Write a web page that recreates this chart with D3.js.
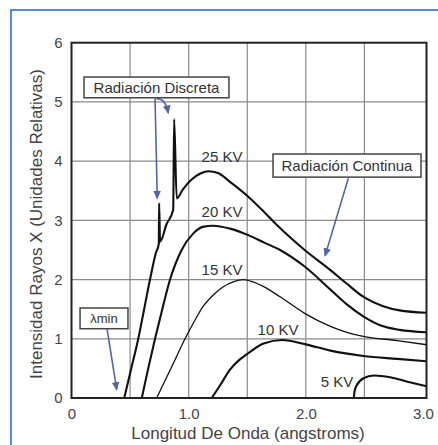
<!DOCTYPE html>
<html>
<head>
<meta charset="utf-8">
<script src="https://cdn.jsdelivr.net/npm/d3@7"></script>
<style>
  body { margin: 0; background: #fff; }
  svg { display: block; }
</style>
</head>
<body>
<svg id="espectro"></svg>
<script>
// curves: [wavelength (angstroms), relative intensity]
const kv25 = [[0.45,0],[0.51,0.5],[0.57,1.0],[0.62,1.5],[0.67,2.0],[0.72,2.45],[0.745,2.6],[0.748,3.29],[0.756,2.64],
  [0.81,2.93],[0.868,3.18],[0.876,4.71],[0.898,3.37],[0.95,3.52],[1.02,3.68],[1.10,3.79],[1.17,3.83],[1.25,3.80],
  [1.353,3.65],[1.509,3.40],[1.65,3.13],[1.78,2.87],[1.99,2.50],[2.21,2.16],[2.35,1.93],[2.49,1.71],[2.66,1.55],
  [2.8,1.48],[3.03,1.44]];
const kv20 = [[0.60,0],[0.655,0.5],[0.713,1.0],[0.775,1.5],[0.841,2.0],[0.94,2.5],[1.04,2.78],[1.12,2.89],[1.21,2.91],
  [1.353,2.86],[1.509,2.75],[1.65,2.62],[1.78,2.50],[1.99,2.22],[2.21,1.83],[2.35,1.58],[2.49,1.38],[2.66,1.21],
  [2.8,1.15],[3.03,1.11]];
const kv15 = [[0.727,0],[0.80,0.3],[0.88,0.63],[0.969,1.0],[1.05,1.3],[1.125,1.55],[1.21,1.74],[1.296,1.88],[1.38,1.96],
  [1.467,2.0],[1.55,1.96],[1.64,1.88],[1.78,1.71],[1.99,1.43],[2.21,1.21],[2.35,1.11],[2.49,1.04],[2.78,0.97],[3.03,0.9]];
const kv10 = [[1.197,0],[1.27,0.22],[1.353,0.48],[1.43,0.64],[1.51,0.76],[1.64,0.92],[1.80,0.98],[1.99,0.91],
  [2.21,0.80],[2.49,0.71],[2.78,0.66],[3.03,0.62]];
const kv5 = [[2.41,0],[2.415,0.1],[2.43,0.2],[2.49,0.33],[2.58,0.38],[2.72,0.35],[2.86,0.28],[3.03,0.2]];

const curveNames = ["25 KV", "20 KV", "15 KV", "10 KV", "5 KV"];
const curveLabelX = [1.285, 1.285, 1.285, 1.763, 2.266];
const curveLabelY = [4.07, 3.14, 2.17, 1.15, 0.275];

const xTicks = [0, 1, 2, 3];
const yTicks = [0, 1, 2, 3, 4, 5, 6];
const xGrid = [0.5, 1, 1.5, 2, 2.5];
const yGrid = [1, 2, 3, 4, 5];

// annotation boxes [x0, x1, y0, y1] and arrows [from, to], in data units
const boxes = [
  {text: "Radiación Discreta", x0: 0.107, x1: 1.344, y0: 5.07, y1: 5.42},
  {text: "Radiación Continua", x0: 1.72, x1: 2.983, y0: 3.73, y1: 4.12},
  {text: "λmin", x0: 0.073, x1: 0.482, y0: 1.17, y1: 1.52}
];
const arrows = [
  [[0.713, 5.06], [0.732, 3.37]],
  [[2.363, 3.71], [2.164, 2.40]],
  [[0.30, 1.21], [0.386, 0.14]]
];
const hookArrow = [[0.727, 5.05], [0.80, 5.07], [0.826, 4.81]];

let width = 438, height = 445;
var margin = {top: 42.7, right: 11.5, bottom: 47, left: 71.5};

let svg = d3.select("#espectro")
    .attr("width", width)
    .attr("height", height)
    .style("font-family", "'Liberation Sans', Arial, sans-serif");

// blue outer frame (runs off the right and bottom edge)
svg.append("rect")
    .attr("x", 11).attr("y", 10)
    .attr("width", 440).attr("height", 450)
    .attr("fill", "none")
    .attr("stroke", "#5b8ad0")
    .attr("stroke-width", 2);

const xScale = d3.scaleLinear()
    .domain([0, 3.03])
    .range([margin.left, width - margin.right]);

const yScale = d3.scaleLinear()
    .domain([0, 6])
    .range([height - margin.bottom, margin.top]);

// grid
svg.append("g")
    .selectAll("line")
    .data(xGrid)
    .enter()
    .append("line")
    .attr("x1", d => xScale(d)).attr("x2", d => xScale(d))
    .attr("y1", yScale(0)).attr("y2", yScale(6))
    .attr("stroke", "#8a8a8a").attr("stroke-width", 1.2);

svg.append("g")
    .selectAll("line")
    .data(yGrid)
    .enter()
    .append("line")
    .attr("y1", d => yScale(d)).attr("y2", d => yScale(d))
    .attr("x1", xScale(0)).attr("x2", xScale(3.03))
    .attr("stroke", "#8a8a8a").attr("stroke-width", 1.2);

// curves
let line = d3.line()
    .x(d => xScale(d[0]))
    .y(d => yScale(d[1]))
    .curve(d3.curveMonotoneX);

const curves = [kv25, kv20, kv15, kv10, kv5];
svg.append("g")
    .selectAll("path")
    .data(curves)
    .enter()
    .append("path")
    .attr("d", line)
    .attr("fill", "none")
    .attr("stroke", "#111")
    .attr("stroke-linejoin", "round")
    .attr("stroke-width", (d, i) => i === 2 ? 1.3 : 2.1);

// plot frame
svg.append("rect")
    .attr("x", xScale(0)).attr("y", yScale(6))
    .attr("width", xScale(3.03) - xScale(0))
    .attr("height", yScale(0) - yScale(6))
    .attr("fill", "none")
    .attr("stroke", "#222")
    .attr("stroke-width", 2);

// axes
svg.append("g")
    .attr("transform", "translate(0," + yScale(0) + ")")
    .attr("color", "#444")
    .call(d3.axisBottom(xScale).tickValues(xTicks).tickSize(0).tickPadding(10)
        .tickFormat(d => d === 0 ? "0" : d3.format(".1f")(d)))
    .call(g => g.select(".domain").remove())
    .selectAll("text")
    .attr("font-family", "'Liberation Sans', Arial, sans-serif")
    .attr("font-size", 15);

svg.append("g")
    .attr("transform", "translate(" + xScale(0) + ",0)")
    .attr("color", "#444")
    .call(d3.axisLeft(yScale).tickValues(yTicks).tickSize(0).tickPadding(9)
        .tickFormat(d3.format("d")))
    .call(g => g.select(".domain").remove())
    .selectAll("text")
    .attr("font-family", "'Liberation Sans', Arial, sans-serif")
    .attr("font-size", 15);

// axis titles
svg.append("text")
    .attr("x", 248).attr("y", 439)
    .attr("text-anchor", "middle")
    .attr("font-size", 17)
    .attr("fill", "#444")
    .text("Longitud De Onda (angstroms)");

svg.append("text")
    .attr("transform", "translate(42,224) rotate(-90)")
    .attr("text-anchor", "middle")
    .attr("font-size", 17)
    .attr("fill", "#444")
    .text("Intensidad Rayos X (Unidades Relativas)");

// KV labels
svg.append("g")
    .selectAll("text")
    .data(curveNames)
    .enter()
    .append("text")
    .attr("x", (d, i) => xScale(curveLabelX[i]))
    .attr("y", (d, i) => yScale(curveLabelY[i]))
    .attr("dy", "0.35em")
    .attr("text-anchor", "middle")
    .attr("font-size", 15)
    .attr("fill", "#333")
    .text(d => d);

// arrows
svg.append("defs").append("marker")
    .attr("id", "flecha")
    .attr("viewBox", "0 0 10 10")
    .attr("refX", 8).attr("refY", 5)
    .attr("markerWidth", 6).attr("markerHeight", 6)
    .attr("orient", "auto")
    .append("path")
    .attr("d", "M0,1 L9,5 L0,9 Z")
    .attr("fill", "#5565ad");

svg.append("g")
    .selectAll("line")
    .data(arrows)
    .enter()
    .append("line")
    .attr("x1", d => xScale(d[0][0])).attr("y1", d => yScale(d[0][1]))
    .attr("x2", d => xScale(d[1][0])).attr("y2", d => yScale(d[1][1]))
    .attr("stroke", "#5565ad")
    .attr("stroke-width", 1.6)
    .attr("marker-end", "url(#flecha)");

let hook = d3.path();
hook.moveTo(xScale(hookArrow[0][0]), yScale(hookArrow[0][1]));
hook.quadraticCurveTo(xScale(hookArrow[1][0]), yScale(hookArrow[1][1]),
    xScale(hookArrow[2][0]), yScale(hookArrow[2][1]));
svg.append("path")
    .attr("d", hook.toString())
    .attr("fill", "none")
    .attr("stroke", "#5565ad")
    .attr("stroke-width", 1.6)
    .attr("marker-end", "url(#flecha)");

// annotation boxes
let boxG = svg.append("g")
    .selectAll("g")
    .data(boxes)
    .enter()
    .append("g");

boxG.append("rect")
    .attr("x", d => xScale(d.x0))
    .attr("y", d => yScale(d.y1))
    .attr("width", d => xScale(d.x1) - xScale(d.x0))
    .attr("height", d => yScale(d.y0) - yScale(d.y1))
    .attr("fill", "#fff")
    .attr("stroke", "#444")
    .attr("stroke-width", 1.5);

boxG.append("text")
    .attr("x", d => xScale((d.x0 + d.x1) / 2))
    .attr("y", d => yScale((d.y0 + d.y1) / 2))
    .attr("dy", "0.36em")
    .attr("text-anchor", "middle")
    .attr("font-size", d => d.text === "λmin" ? 13 : 15)
    .attr("fill", "#333")
    .text(d => d.text);
</script>
</body>
</html>
